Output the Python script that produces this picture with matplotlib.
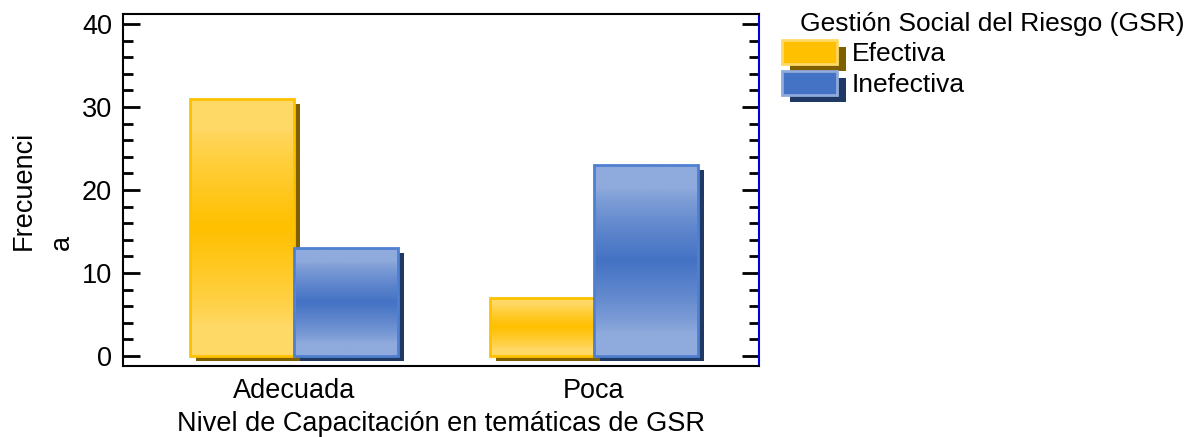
import numpy as np
import matplotlib.pyplot as plt
import matplotlib.transforms as mtransforms
from matplotlib.colors import to_rgb
from matplotlib.patches import Rectangle
from matplotlib.legend_handler import HandlerBase

plt.rcParams['font.family'] = ['Liberation Sans', 'DejaVu Sans']

# datos
categorias = ["Adecuada", "Poca"]
series = ["Efectiva", "Inefectiva"]
efectiva = [31, 7]
inefectiva = [13, 23]

# colores: (centro, claro, sombra, borde)
estilos = {
    "Efectiva": ("#ffc000", "#ffd966", "#7f6000", "#ffc000"),
    "Inefectiva": ("#4472c4", "#8faadc", "#203864", "#4f7fd0"),
}

fs = 19.5

fig = plt.figure(figsize=(11.92, 4.37), dpi=100)
ax = fig.add_axes([123/1192, 71/437, 636/1192, 352/437])

x = np.arange(len(categorias))
ancho = 0.347
sombra = mtransforms.ScaledTranslation(6/100, -5/100, fig.dpi_scale_trans)


def gradiente(c_mid, c_light, n=256):
    t = np.linspace(0, 1, n)
    w = np.clip(1 - np.abs(t - 0.5) / 0.38, 0, 1)
    w = w**0.8
    a = np.array(to_rgb(c_light))
    b = np.array(to_rgb(c_mid))
    col = a[None, :] * (1 - w[:, None]) + b[None, :] * w[:, None]
    return col[:, None, :]


for i, (nombre, vals) in enumerate(zip(series, [efectiva, inefectiva])):
    mid, light, dark, edge = estilos[nombre]
    pos = x - ancho/2 + i*ancho
    # sombras
    sh = ax.bar(pos, vals, ancho, color=dark, zorder=1)
    for p in sh:
        p.set_transform(ax.transData + sombra)
    # barras con degradado
    bars = ax.bar(pos, vals, ancho, facecolor="none", edgecolor=edge, linewidth=2, zorder=4)
    for p in bars:
        x0, y0 = p.get_x(), p.get_y()
        w, h = p.get_width(), p.get_height()
        im = ax.imshow(gradiente(mid, light), extent=(x0, x0 + w, y0, y0 + h),
                       aspect="auto", origin="upper", zorder=3, interpolation="bilinear")
        clip = Rectangle((x0, y0), w, h, transform=ax.transData)
        im.set_clip_path(clip)

ax.set_xlim(-0.57, 1.55)
ax.set_ylim(-1.2, 41.2)
ax.set_xticks(x)
ax.set_xticklabels(categorias, fontsize=fs)
ax.tick_params(axis="x", length=0, pad=9)
ax.set_yticks([0, 10, 20, 30, 40])
ax.set_yticks(np.arange(0, 41, 2), minor=True)
ax.tick_params(axis="y", which="major", direction="in", length=12, width=2, labelsize=fs,
               right=True, pad=8)
ax.tick_params(axis="y", which="minor", direction="in", length=7, width=2, right=True)
for s in ax.spines.values():
    s.set_linewidth(1.5)
ax.spines["right"].set_color("#0000dd")

ax.set_xlabel("Nivel de Capacitación en temáticas de GSR", fontsize=fs, labelpad=5)
ax.set_ylabel("Frecuenci\na", fontsize=fs, multialignment="left", labelpad=5,
              linespacing=1.6)


class HandlerSombra(HandlerBase):
    def create_artists(self, legend, orig_handle, xdescent, ydescent, width, height, fontsize, trans):
        mid, light, dark, edge = estilos[orig_handle.get_label()]
        s = Rectangle((-xdescent + 6, -ydescent - 5), width, height, facecolor=dark,
                      edgecolor="none", transform=trans)
        f = Rectangle((-xdescent, -ydescent), width, height, facecolor=mid,
                      edgecolor=light, linewidth=2, transform=trans)
        return [s, f]


handles = [Rectangle((0, 0), 1, 1, label=n) for n in series]
fig.legend(handles, series, loc="upper left", bbox_to_anchor=(782/1192, 1 - 40/437),
           frameon=False, fontsize=19, borderpad=0, borderaxespad=0,
           handlelength=2.1, handleheight=1.0, handletextpad=0.55, labelspacing=0.2,
           handler_map={Rectangle: HandlerSombra()})
fig.text(800/1192, 1 - 12/437, "Gestión Social del Riesgo (GSR)", fontsize=19, va="top", ha="left")

fig.savefig("out.png", dpi=100)
